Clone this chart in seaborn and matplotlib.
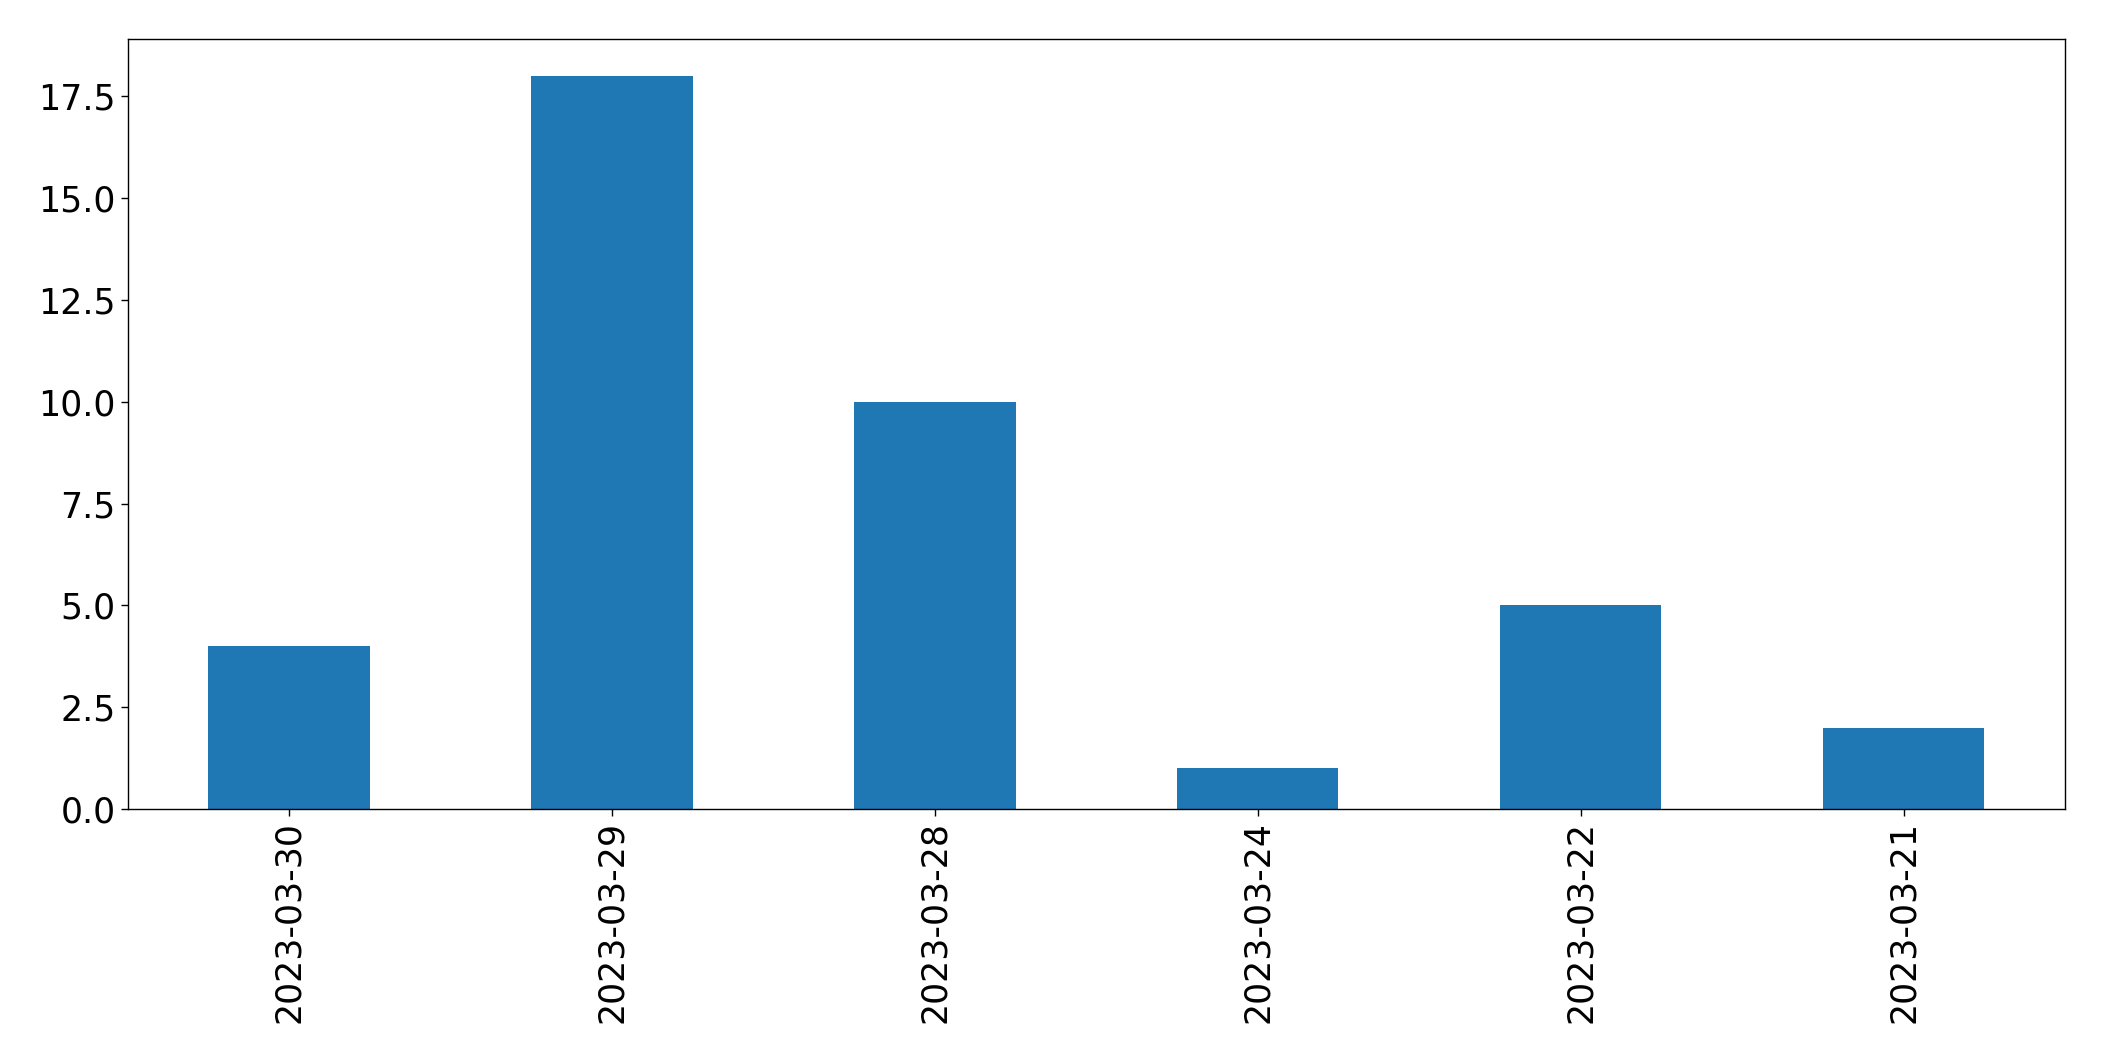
import pandas as pd
import matplotlib
matplotlib.use('Agg')
import matplotlib.pyplot as plt
import seaborn as sns

# dados
datas = ['2023-03-30', '2023-03-29', '2023-03-28', '2023-03-24', '2023-03-22', '2023-03-21']
contagens = [4, 18, 10, 1, 5, 2]

df = pd.DataFrame({'data': datas, 'qtd': contagens})

sns.set_style("white")
plt.rcParams['font.family'] = ['DejaVu Sans']

fig = plt.figure(figsize=(21.04, 10.61), dpi=100)
ax = fig.add_axes([0.0606, 0.2375, 0.9209, 0.7255])
sns.barplot(data=df, x='data', y='qtd', order=datas, color='#1f77b4',
            saturation=1, width=0.5, linewidth=0, ax=ax)

ax.set_xlim(-0.5, len(datas) - 0.5)
ax.set_ylim(0, max(contagens) * 1.05)
ax.set_xlabel('')
ax.set_ylabel('')
ax.tick_params(axis='x', labelrotation=90, labelsize=25, length=5, width=1,
               bottom=True, colors='black')
ax.tick_params(axis='y', labelsize=25, length=5, width=1, left=True, colors='black')
ax.yaxis.set_major_formatter(matplotlib.ticker.FormatStrFormatter('%.1f'))
for s in ax.spines.values():
    s.set_visible(True)
    s.set_color('black')
    s.set_linewidth(1)

fig.savefig('out.png', dpi=100)
